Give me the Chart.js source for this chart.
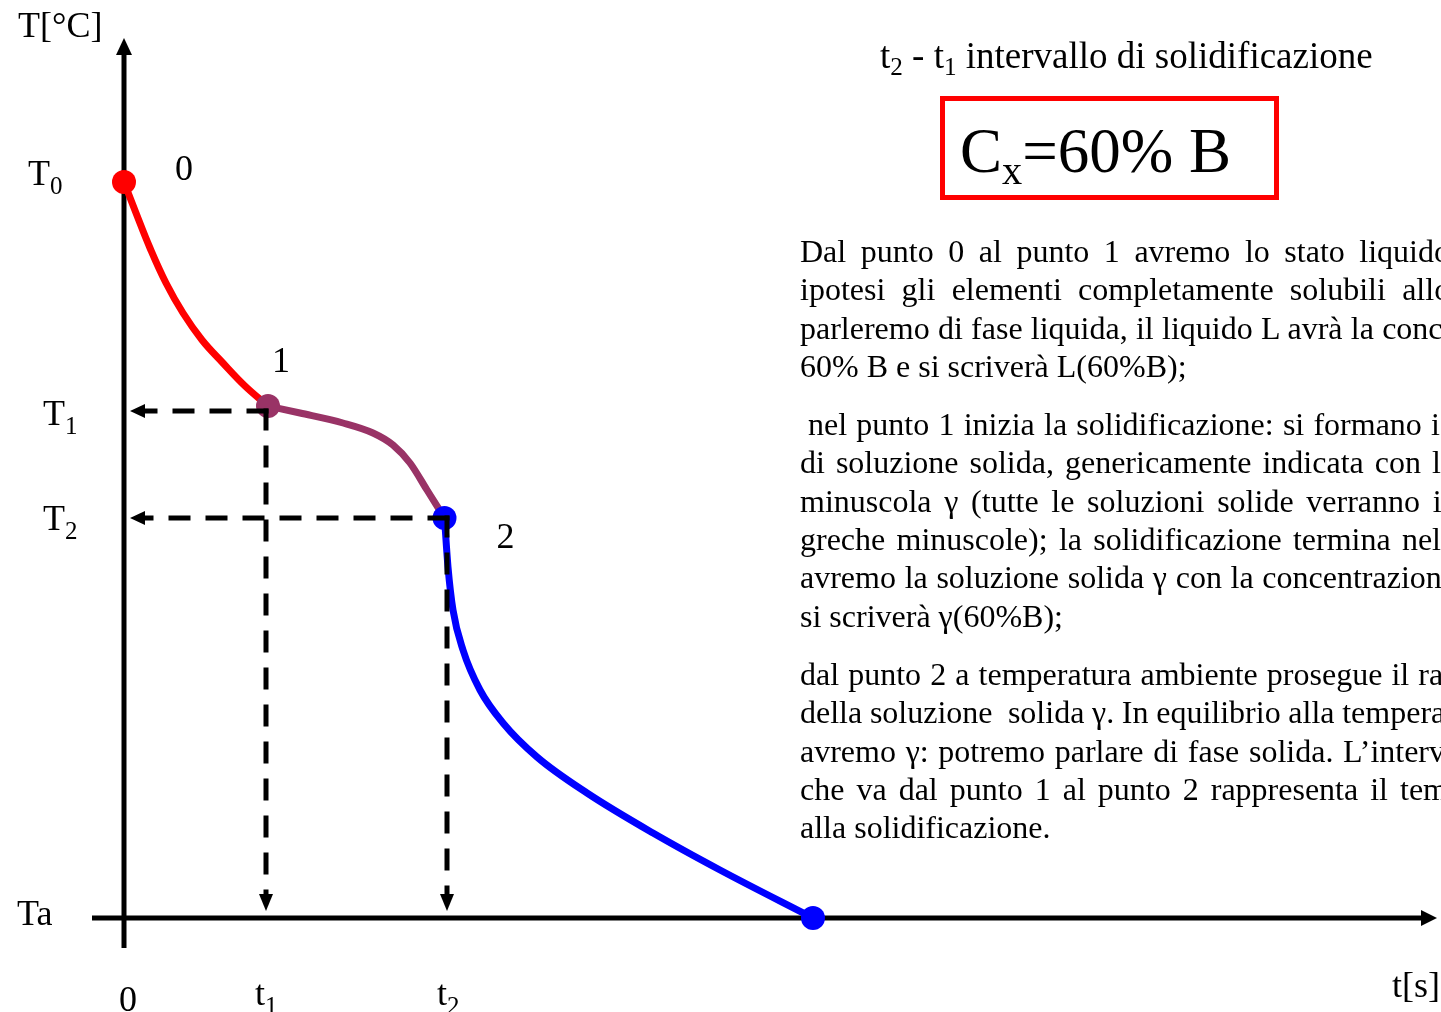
<!DOCTYPE html>
<html lang="it">
<head>
<meta charset="UTF-8">
<title>Curva di raffreddamento - Cx = 60% B</title>
<script src="https://cdn.jsdelivr.net/npm/chart.js"></script>
<style>
    body {
        margin: 0;
        width: 1441px;
        height: 1012px;
        overflow: hidden;
        background: #fff;
        color: #000;
        font-family: "Liberation Serif", "Times New Roman", serif;
        position: relative;
    }
    #curve { position: absolute; left: 0; top: 0; }
    .txt { position: absolute; white-space: nowrap; }
    .sub { font-size: 0.68em; vertical-align: -0.28em; }
    #title { left: 880px; top: 37px; font-size: 37px; line-height: 37px; }
    #box {
        position: absolute;
        left: 940px; top: 96px;
        width: 329px; height: 94px;
        border: 5px solid #ff0000;
    }
    #conc { left: 960px; top: 120px; font-size: 63px; line-height: 63px; }
    #conc .sub { font-size: 0.64em; vertical-align: -0.3em; }
    .para { position: absolute; white-space: pre; font-size: 32px; line-height: 38.3px; }
</style>
</head>
<body>
    <canvas id="curve" width="1441" height="1012"></canvas>

    <div id="title" class="txt">t<span class="sub">2</span> - t<span class="sub">1</span> intervallo di solidificazione</div>
    <div id="box"></div>
    <div id="conc" class="txt">C<span class="sub">x</span>=60% B</div>

    <script>
        // tratto 0-1: raffreddamento del liquido
        const liquidTime = [0, 1.2, 2.6, 4.2, 5.9, 7.8, 9.8, 12.1, 14.4];
        const liquidTemp = [73.6, 70.5, 67.0, 63.5, 60.5, 57.8, 55.6, 53.2, 51.2];

        // tratto 1-2: intervallo di solidificazione
        const solidifTime = [14.4, 17.6, 21.9, 24.9, 26.9, 28.6, 30.3, 32.05];
        const solidifTemp = [51.2, 50.5, 49.5, 48.5, 47.3, 45.5, 42.8, 40.0];

        // tratto 2-Ta: raffreddamento della soluzione solida
        const solidTime = [32.05, 32.4, 32.9, 33.9, 35.6, 37.9, 41.3, 46.3, 52.9, 59.6, 68.9];
        const solidTemp = [40.0, 35.1, 30.8, 26.8, 22.8, 19.5, 16.1, 12.5, 8.5, 4.8, 0];

        // etichette sugli assi
        const tempTickLabels = [['T', '0'], ['T', '1'], ['T', '2'], ['Ta', '']];
        const tempTickValues = [73.6, 50.7, 40.0, 0];
        const timeTickLabels = [['0', ''], ['t', '1'], ['t', '2']];
        const timeTickValues = [0, 14.2, 32.3];
        const pointNames = ['0', '1', '2'];

        // testo a destra del grafico
        const paragraphs = [
            ['Dal punto 0 al punto 1 avremo lo stato liquido', 800, 262, 1450],
            ['ipotesi gli elementi completamente solubili allora', 800, 300.3, 1475],
            ['parleremo di fase liquida, il liquido L avrà la concentrazione', 800, 338.6, 1577],
            ['60% B e si scriverà L(60%B);', 800, 376.9, 0],
            ['nel punto 1 inizia la solidificazione: si formano i', 808, 435, 1440],
            ['di soluzione solida, genericamente indicata con la', 800, 473.3, 1455],
            ['minuscola γ (tutte le soluzioni solide verranno indicate', 800, 511.6, 1534],
            ['greche minuscole); la solidificazione termina nel', 800, 549.9, 1441],
            ['avremo la soluzione solida γ con la concentrazione', 800, 588.2, 1456],
            ['si scriverà γ(60%B);', 800, 626.5, 0],
            ['dal punto 2 a temperatura ambiente prosegue il raffreddamento', 800, 685, 1615],
            ['della soluzione  solida γ. In equilibrio alla temperatura', 800, 723.3, 1495],
            ['avremo γ: potremo parlare di fase solida. L’intervallo', 800, 761.6, 1493],
            ['che va dal punto 1 al punto 2 rappresenta il tempo', 800, 799.9, 1480],
            ['alla solidificazione.', 800, 838.2, 0],
        ];

        const measure = document.createElement('canvas').getContext('2d');
        measure.font = '32px "Liberation Serif"';
        paragraphs.forEach(([text, left, baseline, right]) => {
            const div = document.createElement('div');
            div.className = 'para';
            div.textContent = text;
            div.style.left = left + 'px';
            div.style.top = (baseline - 30) + 'px';
            if (right) {
                // giustificato: distribuisce lo spazio tra le parole
                const gaps = text.split(' ').length - 1;
                const natural = measure.measureText(text).width;
                div.style.wordSpacing = ((right - left - natural) / gaps) + 'px';
            }
            document.body.appendChild(div);
        });

        const FONT = '"Liberation Serif", "Times New Roman", serif';

        function drawLabel(ctx, main, sub, x, y, align) {
            ctx.font = '36px ' + FONT;
            const wMain = ctx.measureText(main).width;
            ctx.font = '25px ' + FONT;
            const wSub = sub ? ctx.measureText(sub).width : 0;
            let left = x;
            if (align === 'center') left = x - (wMain + wSub) / 2;
            if (align === 'right') left = x - (wMain + wSub);
            ctx.textAlign = 'left';
            ctx.textBaseline = 'alphabetic';
            ctx.font = '36px ' + FONT;
            ctx.fillText(main, left, y);
            if (sub) {
                ctx.font = '25px ' + FONT;
                ctx.fillText(sub, left + wMain, y + 9);
            }
        }

        function triangle(ctx, a, b, c) {
            ctx.beginPath();
            ctx.moveTo(a[0], a[1]);
            ctx.lineTo(b[0], b[1]);
            ctx.lineTo(c[0], c[1]);
            ctx.closePath();
            ctx.fill();
        }

        const coolingDiagram = {
            id: 'coolingDiagram',
            // assi con frecce
            beforeDatasetsDraw(chart) {
                const { ctx, scales: { x, y } } = chart;
                const x0 = x.getPixelForValue(0);
                const y0 = y.getPixelForValue(0);
                ctx.save();
                ctx.strokeStyle = '#000';
                ctx.fillStyle = '#000';
                ctx.lineWidth = 5;

                const yTip = y.getPixelForValue(88);
                ctx.beginPath();
                ctx.moveTo(x0, y.getPixelForValue(-3));
                ctx.lineTo(x0, yTip + 14);
                ctx.stroke();
                triangle(ctx, [x0, yTip], [x0 - 8, yTip + 17], [x0 + 8, yTip + 17]);

                const xTip = x.getPixelForValue(131.3);
                ctx.beginPath();
                ctx.moveTo(x.getPixelForValue(-3.2), y0);
                ctx.lineTo(xTip - 14, y0);
                ctx.stroke();
                triangle(ctx, [xTip, y0], [xTip - 16, y0 - 8], [xTip - 16, y0 + 8]);
                ctx.restore();
            },
            // linee tratteggiate di proiezione T1/t1 e T2/t2
            afterDatasetsDraw(chart) {
                const { ctx, scales: { x, y } } = chart;
                const x0 = x.getPixelForValue(0);
                const y0 = y.getPixelForValue(0);
                ctx.save();
                ctx.strokeStyle = '#000';
                ctx.fillStyle = '#000';
                ctx.lineWidth = 5;
                ctx.setLineDash([22, 15]);
                for (let i = 1; i <= 2; i++) {
                    const px = x.getPixelForValue(timeTickValues[i]);
                    const py = y.getPixelForValue(tempTickValues[i]);
                    ctx.beginPath();
                    ctx.moveTo(px + 2.5, py);
                    ctx.lineTo(x0 + 20, py);
                    ctx.stroke();
                    ctx.beginPath();
                    ctx.moveTo(px, py - 2.5);
                    ctx.lineTo(px, y0 - 22);
                    ctx.stroke();
                    triangle(ctx, [x0 + 6, py], [x0 + 21, py - 7], [x0 + 21, py + 7]);
                    triangle(ctx, [px, y0 - 7], [px - 7, y0 - 24], [px + 7, y0 - 24]);
                }
                ctx.restore();
            },
            afterDraw(chart) {
                const { ctx, scales: { x, y } } = chart;
                ctx.save();
                ctx.fillStyle = '#000';
                drawLabel(ctx, 'T[°C]', '', 18, 37, 'left');
                drawLabel(ctx, 't[s]', '', 1440, 997, 'right');

                const tempLeft = [28, 43, 43, 17];
                const tempDy = [3, 14, 12, 7];
                tempTickLabels.forEach(([m, s], i) => {
                    drawLabel(ctx, m, s, tempLeft[i], y.getPixelForValue(tempTickValues[i]) + tempDy[i], 'left');
                });

                const timeDx = [-5, -11, -10];
                const timeBase = [1011, 1005, 1005];
                timeTickLabels.forEach(([m, s], i) => {
                    drawLabel(ctx, m, s, x.getPixelForValue(timeTickValues[i]) + timeDx[i], timeBase[i], 'left');
                });

                // numeri dei punti 0, 1, 2
                const pts = [
                    [liquidTime[0], liquidTemp[0], 60, -2],
                    [solidifTime[0], solidifTemp[0], 13, -34],
                    [solidTime[0], solidTemp[0], 61, 30],
                ];
                pts.forEach(([t, T, dx, dy], i) => {
                    drawLabel(ctx, pointNames[i], '', x.getPixelForValue(t) + dx, y.getPixelForValue(T) + dy, 'center');
                });
                ctx.restore();
            }
        };

        const toPoints = (ts, vs) => ts.map((t, i) => ({ x: t, y: vs[i] }));

        new Chart(document.getElementById('curve'), {
            type: 'line',
            data: {
                datasets: [
                    {
                        label: 'liquido',
                        data: toPoints(liquidTime, liquidTemp),
                        borderColor: '#ff0000',
                        backgroundColor: '#ff0000',
                        pointBackgroundColor: '#ff0000',
                        borderWidth: 7,
                        pointRadius: liquidTime.map((_, i) => i === 0 ? 12 : 0),
                        pointBorderWidth: 0,
                        tension: 0.4,
                        clip: false,
                        order: 3,
                    },
                    {
                        label: 'solidificazione',
                        data: toPoints(solidifTime, solidifTemp),
                        borderColor: '#993366',
                        backgroundColor: '#993366',
                        pointBackgroundColor: '#993366',
                        borderWidth: 7,
                        pointRadius: solidifTime.map((_, i) => i === 0 ? 12 : 0),
                        pointBorderWidth: 0,
                        cubicInterpolationMode: 'monotone',
                        clip: false,
                        order: 2,
                    },
                    {
                        label: 'soluzione solida',
                        data: toPoints(solidTime, solidTemp),
                        borderColor: '#0000ff',
                        backgroundColor: '#0000ff',
                        pointBackgroundColor: '#0000ff',
                        borderWidth: 7,
                        pointRadius: solidTime.map((_, i) => (i === 0 || i === solidTime.length - 1) ? 12 : 0),
                        pointBorderWidth: 0,
                        cubicInterpolationMode: 'monotone',
                        clip: false,
                        order: 1,
                    },
                ],
            },
            options: {
                responsive: false,
                devicePixelRatio: 1,
                animation: false,
                events: [],
                layout: { padding: 0, autoPadding: false },
                plugins: {
                    legend: { display: false },
                    tooltip: { enabled: false },
                },
                scales: {
                    x: { type: 'linear', min: -12.4, max: 131.7, display: false },
                    y: { type: 'linear', min: -9.4, max: 91.8, display: false },
                },
            },
            plugins: [coolingDiagram],
        });
    </script>
</body>
</html>
